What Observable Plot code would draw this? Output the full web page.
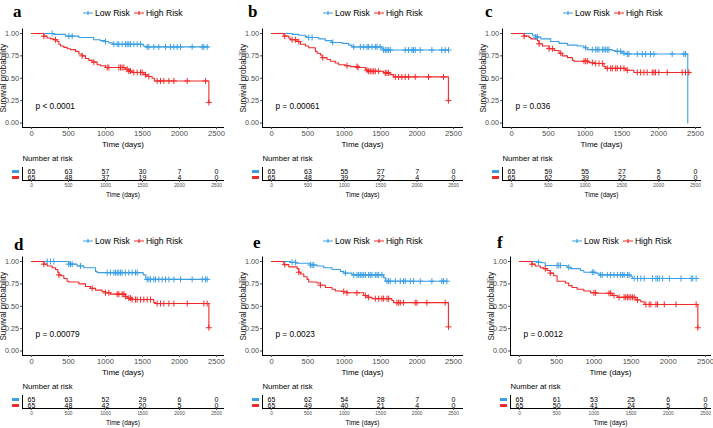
<!DOCTYPE html>
<html><head><meta charset="utf-8">
<script src="https://cdn.jsdelivr.net/npm/d3@7"></script>
<script src="https://cdn.jsdelivr.net/npm/@observablehq/plot@0.6"></script>
<style>
body{margin:0;background:#fff;}
#root{position:relative;width:713px;height:428px;overflow:hidden;background:#fff;font-family:"Liberation Sans Narrow","Arial Narrow",sans-serif;}
.letter{position:absolute;font-family:"Liberation Serif","DejaVu Serif",serif;font-weight:bold;font-size:17px;line-height:1;color:#000;}
.legend{position:absolute;display:flex;align-items:center;font-size:8.6px;color:#000;white-space:nowrap;height:12px;}
.sw{position:absolute;width:7px;height:3px;}
</style></head><body><div id="root"></div>
<script>
// ---------------- data ----------------
const groups = ["Low Risk", "High Risk"];
const timeTicks = [0, 500, 1000, 1500, 2000, 2500];
const survTicks = [0, 0.25, 0.5, 0.75, 1];
const panelLetters = ["a", "b", "c", "d", "e", "f"];
const pValues = ["p < 0.0001", "p = 0.00061", "p = 0.036", "p = 0.00079", "p = 0.0023", "p = 0.0012"];

// number at risk at timeTicks
const aRiskLow = [65, 63, 57, 30, 7, 0], aRiskHigh = [65, 48, 37, 19, 4, 0];
const bRiskLow = [65, 63, 55, 27, 7, 0], bRiskHigh = [65, 48, 39, 22, 4, 0];
const cRiskLow = [65, 59, 55, 27, 5, 0], cRiskHigh = [65, 62, 39, 22, 6, 0];
const dRiskLow = [65, 63, 52, 29, 6, 0], dRiskHigh = [65, 48, 42, 20, 5, 0];
const eRiskLow = [65, 62, 54, 28, 7, 0], eRiskHigh = [65, 49, 40, 21, 4, 0];
const fRiskLow = [65, 61, 53, 25, 6, 0], fRiskHigh = [65, 50, 41, 24, 5, 0];

// survival steps [time, probability] and censoring times
const aLow = [[0,1],[300,0.99],[460,0.97],[640,0.955],[840,0.93],[930,0.92],[1000,0.91],[1045,0.895],[1100,0.88],[1510,0.86],[1540,0.85],[2390,0.85]];
const aLowCens = [279,505,550,1000,1113,1158,1180,1225,1270,1293,1315,1338,1383,1428,1473,1563,1586,1653,1721,1811,1879,1924,1969,2014,2171,2307,2329,2374];
const aHigh = [[0,1],[167,0.97],[210,0.95],[257,0.94],[300,0.93],[347,0.91],[370,0.88],[392,0.86],[437,0.845],[482,0.83],[527,0.82],[595,0.80],[640,0.77],[685,0.75],[730,0.72],[775,0.70],[820,0.68],[887,0.65],[932,0.64],[1000,0.62],[1270,0.60],[1315,0.58],[1360,0.565],[1518,0.54],[1563,0.52],[1630,0.50],[1660,0.47],[2397,0.23]];
const aHighCens = [167,324,685,842,1023,1045,1180,1203,1225,1248,1293,1315,1338,1383,1428,1473,1496,1541,1586,1698,1743,1788,1856,1924,2104,2352,2397];

const bLow = [[0,1],[283,0.99],[375,0.98],[466,0.965],[490,0.955],[650,0.94],[740,0.92],[830,0.90],[970,0.89],[1060,0.87],[1105,0.85],[1517,0.83],[1540,0.815],[2430,0.815]];
const bLowCens = [512,558,841,1129,1220,1266,1312,1334,1380,1426,1449,1494,1540,1563,1586,1609,1632,1837,1883,1929,1951,1974,2043,2203,2340,2386,2431];
const bHigh = [[0,1],[169,0.97],[238,0.95],[260,0.93],[352,0.91],[398,0.88],[466,0.86],[512,0.84],[603,0.80],[626,0.78],[672,0.76],[695,0.73],[763,0.71],[809,0.69],[877,0.67],[923,0.65],[1015,0.64],[1083,0.63],[1175,0.62],[1289,0.60],[1312,0.59],[1334,0.578],[1540,0.56],[1630,0.54],[1677,0.515],[2430,0.25]];
const bHighCens = [183,283,329,375,704,1037,1174,1188,1312,1334,1357,1380,1403,1426,1472,1563,1586,1609,1700,1746,1791,1837,1883,1974,2157,2363,2430];

const cLow = [[0,1],[285,0.98],[330,0.96],[398,0.94],[533,0.91],[646,0.89],[760,0.87],[895,0.86],[985,0.84],[1030,0.82],[1370,0.81],[1420,0.80],[1505,0.78],[1550,0.77],[2395,0]];
const cLowCens = [330,353,1008,1098,1144,1166,1189,1234,1257,1279,1302,1324,1437,1483,1528,1573,1596,1709,1776,1822,1889,1935,2183,2341,2364];
const cHigh = [[0,1],[172,0.97],[240,0.955],[262,0.94],[352,0.92],[375,0.885],[420,0.86],[510,0.83],[580,0.81],[646,0.78],[690,0.75],[760,0.73],[827,0.70],[850,0.69],[1053,0.675],[1100,0.665],[1257,0.63],[1280,0.61],[1550,0.59],[1663,0.565],[2423,0.565]];
const cHighCens = [172,375,511,556,669,985,1008,1031,1098,1144,1189,1234,1302,1347,1370,1415,1437,1483,1528,1573,1709,1754,1799,1844,1912,1935,1957,2002,2115,2319,2364,2409];

const dLow = [[0,1],[505,0.97],[617,0.95],[707,0.93],[865,0.89],[887,0.875],[1510,0.85],[1545,0.80],[2383,0.80]];
const dLowCens = [212,257,302,505,527,550,662,1023,1068,1113,1135,1158,1180,1203,1225,1270,1315,1360,1406,1428,1563,1586,1608,1653,1676,1721,1766,1811,1856,1924,2014,2171,2307,2352,2374];
const dHigh = [[0,1],[167,0.97],[212,0.95],[280,0.93],[325,0.91],[355,0.88],[370,0.85],[392,0.84],[437,0.81],[482,0.78],[505,0.77],[640,0.75],[730,0.72],[797,0.70],[865,0.68],[955,0.665],[1000,0.65],[1068,0.635],[1270,0.61],[1293,0.59],[1360,0.575],[1653,0.54],[1676,0.53],[2397,0.26]];
const dHighCens = [167,370,820,1000,1045,1158,1180,1225,1248,1270,1315,1338,1360,1406,1428,1473,1518,1563,1608,1698,1743,1788,1856,1924,2104,2329,2374,2397];

const eLow = [[0,1],[260,0.99],[330,0.98],[535,0.96],[626,0.95],[717,0.93],[832,0.91],[946,0.89],[992,0.87],[1106,0.85],[1540,0.82],[1563,0.78],[2422,0.78]];
const eLowCens = [283,329,535,558,580,1015,1129,1174,1197,1220,1243,1266,1289,1334,1357,1380,1426,1449,1472,1517,1586,1609,1631,1700,1769,1814,1837,1906,1951,2043,2203,2340,2363,2408];
const eHigh = [[0,1],[169,0.965],[238,0.94],[352,0.92],[375,0.88],[398,0.86],[443,0.83],[489,0.80],[512,0.77],[626,0.76],[672,0.735],[740,0.71],[832,0.69],[877,0.67],[969,0.665],[1037,0.65],[1266,0.62],[1312,0.60],[1380,0.585],[1654,0.565],[1677,0.54],[2430,0.27]];
const eHighCens = [183,375,672,992,1037,1174,1289,1334,1426,1472,1517,1540,1586,1609,1723,1746,1769,1814,1974,1997,2134,2386,2431];

const fLow = [[0,1],[257,0.99],[302,0.985],[347,0.955],[640,0.935],[685,0.92],[820,0.90],[865,0.88],[1023,0.87],[1068,0.85],[1496,0.83],[1518,0.81],[2388,0.81]];
const fLowCens = [257,505,527,550,662,978,1000,1090,1113,1180,1225,1270,1315,1360,1383,1406,1451,1473,1541,1586,1631,1676,1788,1834,1856,1879,1924,2014,2171,2307,2329,2374];
const fHigh = [[0,1],[167,0.97],[212,0.95],[280,0.93],[325,0.92],[370,0.90],[414,0.87],[460,0.84],[505,0.78],[617,0.76],[662,0.73],[707,0.71],[775,0.69],[865,0.67],[955,0.65],[1045,0.645],[1248,0.62],[1315,0.60],[1563,0.57],[1630,0.55],[1676,0.52],[2397,0.26]];
const fHighCens = [167,347,414,1000,1023,1203,1225,1270,1338,1406,1428,1451,1473,1496,1518,1541,1586,1698,1743,1766,1834,1856,1946,2104,2374,2397];

// ---------------- style / layout ----------------
const BLUE = "#3a9fe4", RED = "#f42a2a";
const FONT = '"Liberation Sans Narrow","Arial Narrow",sans-serif';
const FONT_REG = '"Liberation Sans",Arial,sans-serif';
const layout = [
  {L: 22, R: 223, p0: 31, p2500: 216, oy: 0, letterX: 13, letterBase: 17, legendX: 83},
  {L: 262, R: 462, p0: 271, p2500: 453, oy: 0, letterX: 248, letterBase: 17, legendX: 323},
  {L: 502, R: 700, p0: 511, p2500: 695, oy: 0, letterX: 485, letterBase: 17, legendX: 563},
  {L: 22, R: 223, p0: 31, p2500: 216, oy: 228, letterX: 14, letterBase: 22, legendX: 83},
  {L: 262, R: 462, p0: 271, p2500: 453, oy: 228, letterX: 253, letterBase: 20, legendX: 323},
  {L: 510, R: 710, p0: 519, p2500: 705, oy: 228, letterX: 497, letterBase: 20, legendX: 572}
];
const panelData = [
  {low: aLow, lowC: aLowCens, high: aHigh, highC: aHighCens, rLow: aRiskLow, rHigh: aRiskHigh},
  {low: bLow, lowC: bLowCens, high: bHigh, highC: bHighCens, rLow: bRiskLow, rHigh: bRiskHigh},
  {low: cLow, lowC: cLowCens, high: cHigh, highC: cHighCens, rLow: cRiskLow, rHigh: cRiskHigh},
  {low: dLow, lowC: dLowCens, high: dHigh, highC: dHighCens, rLow: dRiskLow, rHigh: dRiskHigh},
  {low: eLow, lowC: eLowCens, high: eHigh, highC: eHighCens, rLow: eRiskLow, rHigh: eRiskHigh},
  {low: fLow, lowC: fLowCens, high: fHigh, highC: fHighCens, rLow: fRiskLow, rHigh: fRiskHigh}
];

function survAt(steps, t) {
  let v = steps[0][1];
  for (const [tt, vv] of steps) if (tt <= t) v = vv;
  return v;
}

const root = document.getElementById("root");
function place(el, x, y) {
  el.style.position = "absolute";
  el.style.left = x + "px";
  el.style.top = y + "px";
  root.appendChild(el);
}

function legendGlyph(color) {
  const ns = "http://www.w3.org/2000/svg";
  const s = document.createElementNS(ns, "svg");
  s.setAttribute("width", "10"); s.setAttribute("height", "8");
  s.innerHTML = `<path d="M0,4H10M5,2V6" stroke="${color}" stroke-width="1.2" fill="none"/>`;
  return s;
}

panelData.forEach((p, i) => {
  const L = layout[i];
  const k = (L.p2500 - L.p0) / 2500;
  const xDom = [-(L.p0 - L.L) / k, (L.R - L.p0) / k];
  const W = L.R - L.L + 26;

  const curves = [{g: "Low Risk", steps: p.low, cens: p.lowC}, {g: "High Risk", steps: p.high, cens: p.highC}];
  const lineData = curves.flatMap(c => c.steps.map(([t, v]) => ({group: c.g, t, v})));
  const censData = curves.flatMap(c => c.cens.map(t => ({group: c.g, t, v: survAt(c.steps, t)})));

  const main = Plot.plot({
    width: W, height: 126,
    marginLeft: 22, marginRight: 4, marginTop: 4.5, marginBottom: 23,
    style: {fontFamily: FONT, background: "transparent", overflow: "visible"},
    x: {domain: xDom},
    y: {domain: [-0.05, 1.05]},
    color: {domain: groups, range: [BLUE, RED]},
    marks: [
      Plot.frame({anchor: "bottom", stroke: "#000"}),
      Plot.frame({anchor: "left", stroke: "#000"}),
      Plot.axisY({ticks: survTicks, tickFormat: d3.format(".2f"), tickSize: 2, tickPadding: 1.5, fontSize: 7.2, label: null, color: "#4d4d4d"}),
      Plot.axisX({ticks: timeTicks, tickFormat: d3.format("d"), tickSize: 2, tickPadding: 1, fontSize: 7.6, label: null, color: "#4d4d4d"}),
      Plot.line(lineData, {x: "t", y: "v", z: "group", stroke: "group", curve: "step-after", strokeWidth: 1.1}),
      Plot.dot(censData, {x: "t", y: "v", stroke: "group", symbol: "plus", r: 2.1, strokeWidth: 1}),
      Plot.text([pValues[i]], {x: 54, y: 0.184, textAnchor: "start", lineAnchor: "middle", fontSize: 8.3, fill: "#000"}),
      Plot.text(["Survival probability"], {frameAnchor: "left", dx: -19, rotate: -90, textAnchor: "middle", lineAnchor: "middle", fontSize: 8.2, fontFamily: FONT_REG, fill: "#111"}),
      Plot.text(["Time (days)"], {frameAnchor: "bottom", dy: 16.5, textAnchor: "middle", lineAnchor: "middle", fontSize: 8, fill: "#000"})
    ]
  });
  place(main, L.L - 22, L.oy + 24);

  const riskData = groups.flatMap((g, gi) => timeTicks.map((t, j) => ({group: g, t, n: (gi === 0 ? p.rLow : p.rHigh)[j]})));
  const risk = Plot.plot({
    width: W, height: 50,
    marginLeft: 22, marginRight: 4, marginTop: 17, marginBottom: 20,
    style: {fontFamily: FONT, background: "transparent", overflow: "visible"},
    x: {domain: xDom},
    y: {type: "point", domain: groups, range: [21, 27.3], padding: 0, axis: null},
    marks: [
      Plot.frame({anchor: "bottom", stroke: "#000"}),
      Plot.frame({anchor: "left", stroke: "#000"}),
      Plot.axisX({ticks: timeTicks, tickFormat: d3.format("d"), tickSize: 2, tickPadding: 1.5, fontSize: 4.8, label: null, color: "#4d4d4d"}),
      Plot.text(riskData, {x: "t", y: "group", text: "n", lineAnchor: "middle", fontSize: 7, fill: "#000"}),
      Plot.text(["Number at risk"], {frameAnchor: "top-left", dy: -8.5, textAnchor: "start", lineAnchor: "middle", fontSize: 7.7, fill: "#000"}),
      Plot.text(["Time (days)"], {frameAnchor: "bottom", dy: 14.5, textAnchor: "middle", lineAnchor: "middle", fontSize: 6.5, fill: "#000"})
    ]
  });
  place(risk, L.L - 22, L.oy + 150);

  // strata swatches of risk table
  groups.forEach((g, gi) => {
    const sw = document.createElement("div");
    sw.className = "sw";
    sw.style.background = gi === 0 ? BLUE : RED;
    place(sw, L.L - 10, L.oy + 170 + gi * 6);
  });

  // legend
  const lg = document.createElement("div");
  lg.className = "legend";
  groups.forEach((g, gi) => {
    const glyph = legendGlyph(gi === 0 ? BLUE : RED);
    glyph.style.marginRight = "2px";
    lg.appendChild(glyph);
    const sp = document.createElement("span");
    sp.textContent = g;
    sp.style.marginRight = gi === 0 ? "4px" : "0";
    lg.appendChild(sp);
  });
  place(lg, L.legendX, L.oy + 7);

  // panel letter
  const lt = document.createElement("div");
  lt.className = "letter";
  lt.textContent = panelLetters[i];
  place(lt, L.letterX, L.oy + L.letterBase - 14.2);
});
</script></body></html>
